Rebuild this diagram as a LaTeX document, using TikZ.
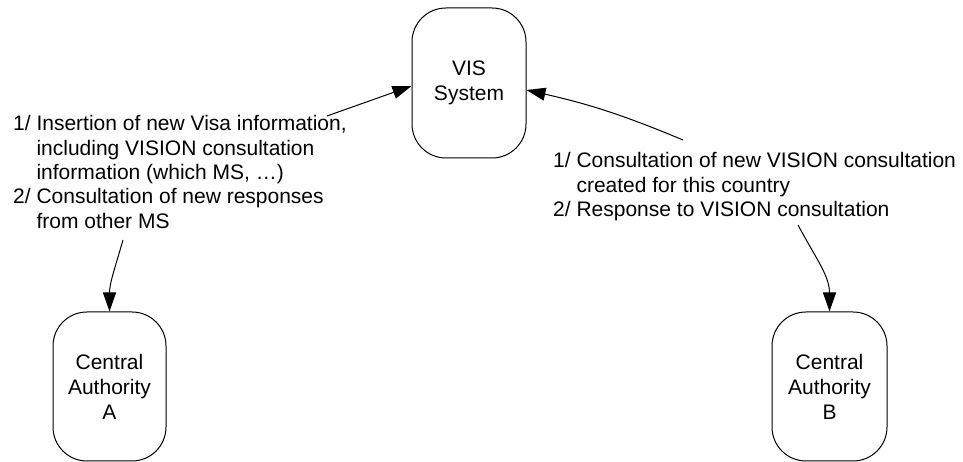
\documentclass[tikz,border=0pt]{standalone}
\usepackage{fontspec}
\setmainfont{Liberation Sans}
\usetikzlibrary{arrows.meta}

\tikzset{
  actor/.style={draw, line width=1pt, rounded corners=34pt, minimum width=114pt,
    minimum height=150pt, align=center, inner sep=0pt,
    font=\fontsize{21}{25}\selectfont},
  flow/.style={line width=1pt, -{Triangle[length=19pt,width=13pt]}},
  note/.style={inner sep=0pt, anchor=base west, font=\fontsize{21}{24.3}\selectfont}
}

\begin{document}
\begin{tikzpicture}[x=1pt,y=1pt]
  \useasboundingbox (0,0) rectangle (963,462);

  % systems
  \node[actor] (vis) at (469,379) {VIS\\System};
  \node[actor, minimum width=113pt, minimum height=149pt] (caa) at (109.5,75.5) {Central\\Authority\\A};
  \node[actor, minimum width=115pt, minimum height=149pt] (cab) at (829.5,75.5) {Central\\Authority\\B};

  % exchanged messages
  \node[note] (msga) at (13,331) {\begin{tabular}[t]{@{}l@{ }l@{}}
    1/ & Insertion of new Visa information,\\
       & including VISION consultation\\
       & information (which MS, \dots)\\
    2/ & Consultation of new responses\\
       & from other MS
  \end{tabular}};
  \node[note] (msgb) at (553,294) {\begin{tabular}[t]{@{}l@{ }l@{}}
    1/ & Consultation of new VISION consultation\\
       & created for this country\\
    2/ & Response to VISION consultation
  \end{tabular}};

  % free ends of the connectors
  \coordinate (a1) at (327,346);
  \coordinate (a2) at (123,222);
  \coordinate (b1) at (683,322);
  \coordinate (b2) at (798,237);

  \draw[flow] (a1) -- ([yshift=-3pt]vis.west);
  \draw[flow] (a2) to[out=254,in=90] (caa.north);
  \draw[flow] (b1) to[bend right=5] ([yshift=-7pt]vis.east);
  \draw[flow] (b2) to[out=-62,in=90] (cab.north);
\end{tikzpicture}
\end{document}
